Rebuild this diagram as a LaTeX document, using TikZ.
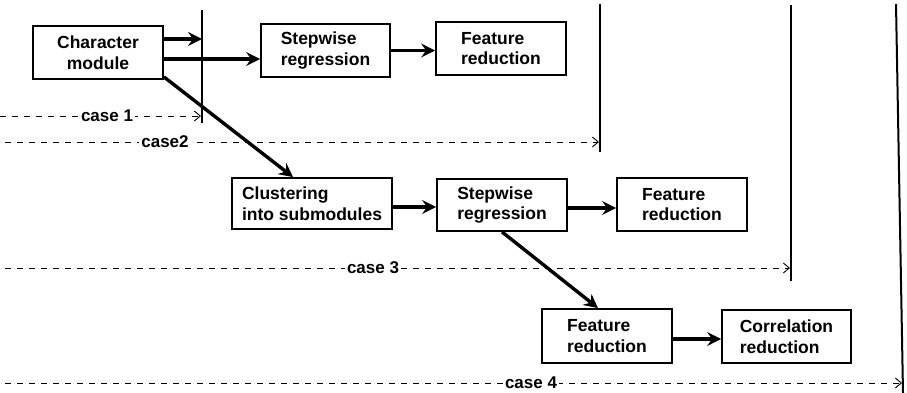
\documentclass[tikz,border=0pt]{standalone}
\usepackage{fontspec}
\setmainfont{Liberation Sans}
\usetikzlibrary{arrows.meta}
\begin{document}
\begin{tikzpicture}[x=1pt,y=-1pt,
  box/.style={draw, line width=1.8pt, inner sep=0pt, minimum height=53pt,
    font=\fontsize{17.5}{20.5}\selectfont\bfseries},
  flow/.style={line width=3.4pt, -{Stealth[length=14pt,width=14pt,inset=5pt]}},
  caseline/.style={line width=0.9pt, dash pattern=on 6pt off 6pt,
    -{Straight Barb[length=6pt,width=10pt]}},
  caselabel/.style={fill=white, inner sep=2pt, font=\fontsize{17}{19}\selectfont\bfseries},
  bar/.style={line width=2pt}]
\useasboundingbox (0,0) rectangle (907,393);

% boxes
\node[box, minimum width=130pt, align=center] (cm)   at (98,52.5)   {Character\\module};
\node[box, minimum width=129pt, align=left]   (sr1)  at (325.5,50.5) {Stepwise\\regression};
\node[box, minimum width=130pt, align=left]   (fr1)  at (501,48.5)   {Feature\\reduction};
\node[box, minimum width=160pt, minimum height=51pt, align=left] (cl) at (312,203.5) {Clustering\\into submodules};
\node[box, minimum width=130pt, minimum height=52pt, align=left] (sr2) at (502,205) {Stepwise\\regression};
\node[box, minimum width=130pt, align=left]   (fr2)  at (682,204.5)  {Feature\\reduction};
\node[box, minimum width=130pt, minimum height=54pt, align=left] (fr3) at (607,336) {Feature\\reduction};
\node[box, minimum width=129pt, align=left]   (corr) at (786.5,336.5) {Correlation\\reduction};

% vertical bars
\coordinate (v1t) at (202,10);  \coordinate (v1b) at (202,123);
\coordinate (v2t) at (600,4);   \coordinate (v2b) at (600,152);
\coordinate (v3t) at (791,5);   \coordinate (v3b) at (791,281);
\coordinate (v4t) at (896,4);   \coordinate (v4b) at (903,393);
\draw[bar] (v1t) -- (v1b);
\draw[bar] (v2t) -- (v2b);
\draw[bar] (v3t) -- (v3b);
\draw[bar] (v4t) -- (v4b);

% flow arrows
\draw[flow] ([yshift=13.5pt]cm.east) -- ([yshift=13.5pt]cm.east -| v1t);
\draw[flow] ([yshift=-6.5pt]cm.east) -- ([yshift=-6.5pt]cm.east -| sr1.west);
\draw[flow] (sr1.east) -- (sr1.east -| fr1.west);
\draw[flow] ([yshift=3pt]cm.south east) -- ([xshift=-19pt]cl.north);
\draw[flow] ([yshift=-3.5pt]cl.east) -- ([yshift=-3.5pt]cl.east -| sr2.west);
\draw[flow] ([yshift=-3pt]sr2.east) -- ([yshift=-3pt]sr2.east -| fr2.west);
\draw[flow] (sr2.south) -- ([xshift=-9pt]fr3.north);
\draw[flow] ([yshift=-3pt]fr3.east) -- ([yshift=-3pt]fr3.east -| corr.west);

% case lines
\coordinate (d1) at (0,116);
\coordinate (d2) at (5,142);
\coordinate (d3) at (5,268);
\coordinate (d4) at (5,383);
\draw[caseline] (d1) -- ([xshift=-1pt]d1 -| v1t);
\draw[caseline] (d2) -- ([xshift=-1pt]d2 -| v2t);
\draw[caseline] (d3) -- ([xshift=-1pt]d3 -| v3t);
\draw[caseline] (d4) -- (902,383);
\node[caselabel] (l1) at (107,116) {case 1};
\node[caselabel] (l2) at (165,142) {case2};
\node[caselabel] (l3) at (373,268) {case 3};
\node[caselabel] (l4) at (531,383) {case 4};
\end{tikzpicture}
\end{document}
